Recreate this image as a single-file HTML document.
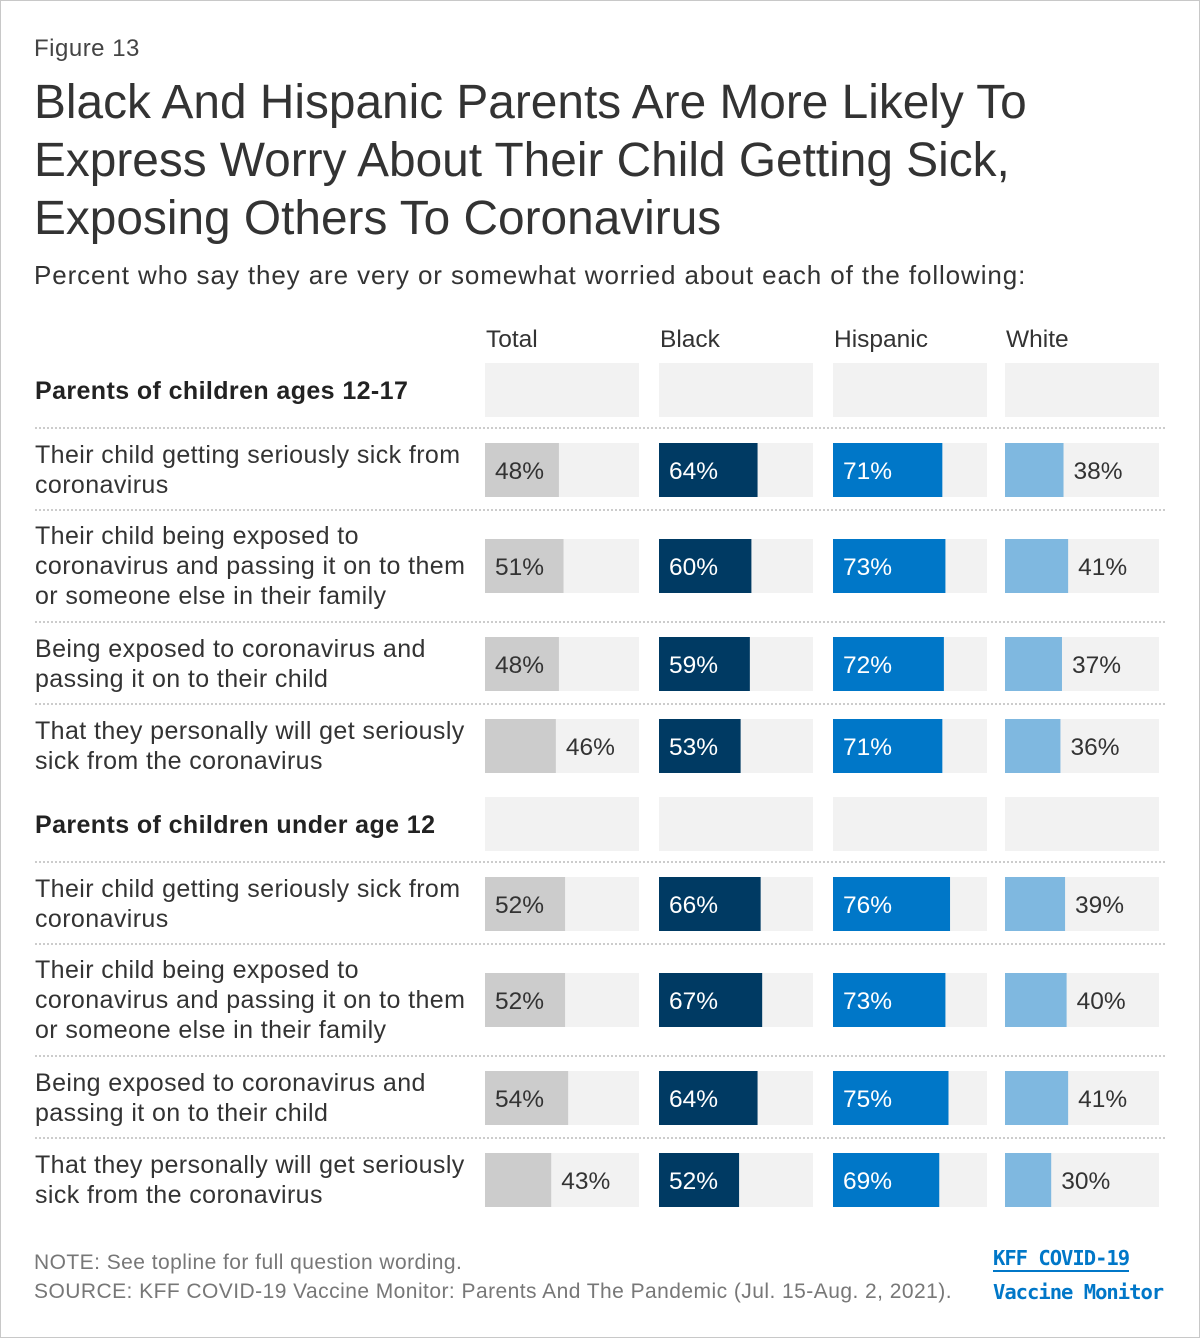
<!DOCTYPE html>
<html><head><meta charset="utf-8"><style>
body{margin:0;background:#fff;font-family:"Liberation Sans",Arial,sans-serif;}
#wrap{position:relative;width:1198px;height:1336px;border:1px solid #c8c8c8;overflow:hidden;}
.t{position:absolute;color:#333;white-space:nowrap;}
</style></head><body>
<div id="wrap">
<div class="t" style="left:33px;top:34px;font-size:24px;letter-spacing:0.5px;color:#444">Figure 13</div>
<div class="t" style="left:33px;top:73px;font-size:47.8px;line-height:58px;color:#333">Black And Hispanic Parents Are More Likely To<br>Express Worry About Their Child Getting Sick,<br>Exposing Others To Coronavirus</div>
<div class="t" style="left:33px;top:259px;font-size:26px;letter-spacing:0.9px;color:#333">Percent who say they are very or somewhat worried about each of the following:</div>
<svg id="chart" width="1198" height="1240" style="position:absolute;left:0;top:0"></svg>
<div class="t" style="left:33px;top:1250px;font-size:21px;letter-spacing:0.45px;color:#777">NOTE: See topline for full question wording.</div>
<div class="t" style="left:33px;top:1279px;font-size:21px;letter-spacing:0.45px;color:#777">SOURCE: KFF COVID-19 Vaccine Monitor: Parents And The Pandemic (Jul. 15-Aug. 2, 2021).</div>
<div class="t" style="left:992px;top:1240px;font-size:20.5px;font-weight:bold;color:#0077c8;font-family:'DejaVu Sans Mono','Liberation Mono',monospace;letter-spacing:-1px;line-height:34px"><span style="border-bottom:2px solid #0077c8">KFF COVID-19</span><br>Vaccine Monitor</div>
</div>
<script>
const groups=["Total","Black","Hispanic","White"];
const rowLabels=[
"Their child getting seriously sick from|coronavirus",
"Their child being exposed to|coronavirus and passing it on to them|or someone else in their family",
"Being exposed to coronavirus and|passing it on to their child",
"That they personally will get seriously|sick from the coronavirus"];
const sectionTitles=["Parents of children ages 12-17","Parents of children under age 12"];
const totalVals=[[48,51,48,46],[52,52,54,43]];
const blackVals=[[64,60,59,53],[66,67,64,52]];
const hispVals=[[71,73,72,71],[76,73,75,69]];
const whiteVals=[[38,41,37,36],[39,40,41,30]];
const series=[totalVals,blackVals,hispVals,whiteVals];
const colors=["#cccccc","#003a63","#0077c8","#7fb8e0"];
const colX=[484,658,832,1004], colW=154;
const xs=v=>v/100*colW;
const svg=document.getElementById('chart');
const NS="http://www.w3.org/2000/svg";
function mk(tag,attrs){const e=document.createElementNS(NS,tag);for(const k in attrs)e.setAttribute(k,attrs[k]);svg.appendChild(e);return e;}
groups.forEach((g,i)=>{const t=mk('text',{x:colX[i]+1,y:346,'font-size':24.5,fill:'#333'});t.textContent=g;

});
const sectionTops=[362,796];
const rowTops=[[442,538,636,718],[876,972,1070,1152]];
const seps=[[427,509,621,703],[861,943,1055,1137]];
sectionTops.forEach((st,s)=>{
 const h=mk('text',{x:34,y:st+36,'font-size':25,'font-weight':'bold','letter-spacing':0.4,fill:'#222'});h.textContent=sectionTitles[s];
 
 
 colX.forEach(x=>{const r=mk('rect',{x:x,y:st,width:colW,height:54,fill:'#f2f2f2'});
  
  });
 seps[s].forEach(y=>{const l=mk('line',{x1:34,x2:1166,y1:y,y2:y,stroke:'#bbb','stroke-width':1.5,'stroke-dasharray':'2,2'});
  
  });
 rowTops[s].forEach((top,r)=>{
  const lines=rowLabels[r].split('|');
  const mid=top+27;
  const lh=30, start=mid-(lines.length-1)*lh/2+8;
  lines.forEach((ln,k)=>{const t=mk('text',{x:34,y:start+k*lh,'font-size':25,'letter-spacing':0.4,fill:'#333'});t.textContent=ln;
   
   });
  series.forEach((ser,gi)=>{
   const v=ser[s][r];
   const bg=mk('rect',{x:colX[gi],y:top,width:colW,height:54,fill:'#f2f2f2'});
   
   
   const b=mk('rect',{x:colX[gi],y:top,width:xs(v),height:54,fill:colors[gi]});
   
   
   const inside=gi!==3&&v>=47;
   const t=mk('text',{x:inside?colX[gi]+10:colX[gi]+xs(v)+10,y:mid+9,'font-size':24.5,fill:(inside&&(gi===1||gi===2))?'#fff':'#333'});
   t.textContent=v+'%';
   
   
  });
 });
});
</script>
</body></html>
